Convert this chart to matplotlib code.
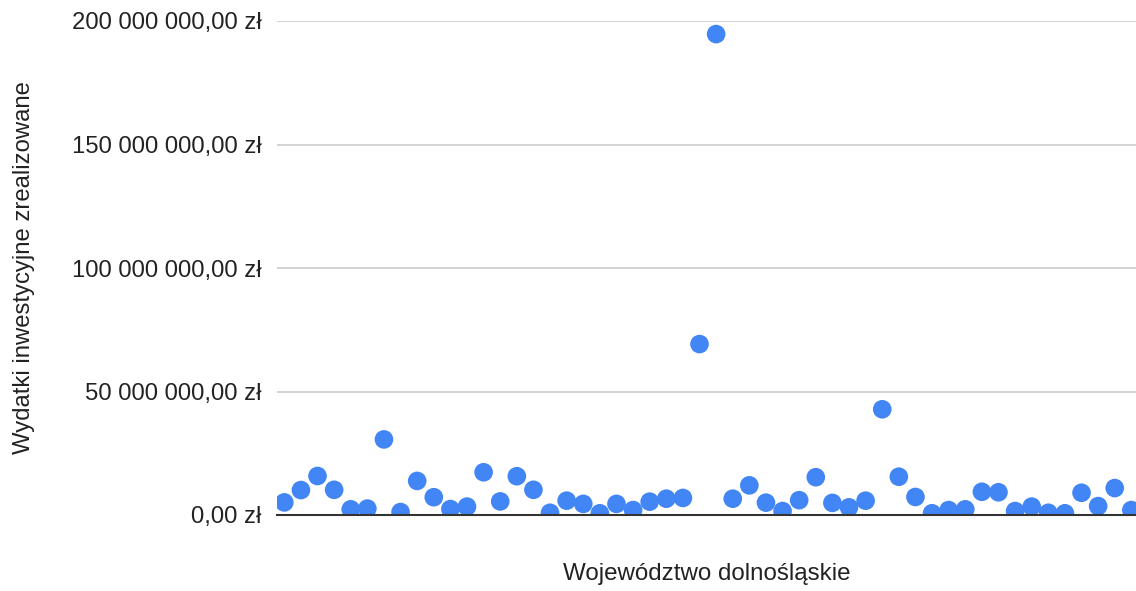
import matplotlib
matplotlib.use("Agg")
import matplotlib.pyplot as plt
from matplotlib.ticker import FuncFormatter

plt.rcParams['font.family'] = ['Liberation Sans', 'DejaVu Sans']

# wydatki inwestycyjne zrealizowane (mln zł), kolejne jednostki w woj. dolnośląskim
wydatki_mln = [
    5.1, 10.1, 15.8, 10.2, 2.3, 2.6, 30.6, 1.2, 13.8, 7.2,
    2.4, 3.4, 17.3, 5.5, 15.7, 10.2, 0.9, 5.8, 4.5, 0.7,
    4.5, 2.0, 5.4, 6.6, 6.9, 69.2, 194.7, 6.6, 12.0, 5.0,
    1.6, 6.0, 15.3, 4.9, 3.1, 5.8, 42.8, 15.5, 7.3, 0.7,
    2.0, 2.3, 9.4, 9.2, 1.6, 3.4, 0.9, 0.7, 9.0, 3.6,
    10.9, 2.0,
]
y_ticks = [0, 50e6, 100e6, 150e6, 200e6]
x_title = "Województwo dolnośląskie"
y_title = "Wydatki inwestycyjne zrealizowane"

values = [v * 1e6 for v in wydatki_mln]
idx = list(range(len(values)))


def pln(v, pos=None):
    whole = f"{v:,.2f}".replace(",", " ").replace(".", ",")
    return whole + " zł"


fig = plt.figure(figsize=(11.36, 5.91), dpi=100)
ax = fig.add_axes([277 / 1136, 1 - 515 / 591, 1 - 277 / 1136, (515 - 21) / 591])

ax.scatter(idx, values, s=180, color="#4285F4", edgecolors="none", zorder=3)

ax.set_xlim(-0.44, 51.28)
ax.set_ylim(0, 200e6)
ax.set_yticks(y_ticks)
ax.yaxis.set_major_formatter(FuncFormatter(pln))
ax.set_xticks([])
ax.grid(axis="y", color="#cccccc", linewidth=1.2, zorder=0)
ax.tick_params(axis="y", length=0, pad=11, labelsize=17.2, labelcolor="#222222")

for s in ["top", "right", "left"]:
    ax.spines[s].set_visible(False)
ax.spines["bottom"].set_color("#333333")
ax.spines["bottom"].set_linewidth(1.5)
ax.spines["bottom"].set_zorder(4)

ax.set_xlabel(x_title, fontsize=17.4, color="#222222", va="center")
ax.xaxis.set_label_coords(0.5, -0.119)
ax.set_ylabel(y_title, fontsize=17.2, color="#222222", va="center")
ax.yaxis.set_label_coords(-0.295, 0.5)

fig.savefig("out.png", dpi=100)
